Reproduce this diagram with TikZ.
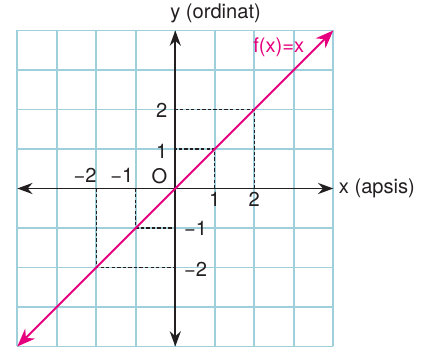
\documentclass[tikz,border=0pt]{standalone}
\usepackage{fontspec}
\setmainfont{TeX Gyre Heros}
\usepackage{xcolor}
\usetikzlibrary{arrows.meta}
\definecolor{gridblue}{RGB}{160,207,220}
\definecolor{ink}{RGB}{35,31,32}
\definecolor{fmag}{RGB}{230,0,126}

\begin{document}
\begin{tikzpicture}[
    font=\fontsize{14.5}{17}\selectfont,
    gridline/.style={gridblue, line width=1.3pt},
    axis/.style={-{Stealth[length=11pt,width=8pt]}, ink, line width=1.3pt},
    graph/.style={{Stealth[length=13pt,width=10pt]}-{Stealth[length=13pt,width=10pt]}, fmag, line width=1.4pt},
    guide/.style={ink, line width=1pt, dash pattern=on 2.4pt off 1.6pt},
    lbl/.style={text=ink, inner sep=1pt}
]
\useasboundingbox (-4.438,-4.165) rectangle (6.271,4.772);

% Grid
\draw[gridline] (-4,-4) grid (4,4);

% Axes
\coordinate (xl) at (-4,0);
\coordinate (xr) at (4,0);
\coordinate (yb) at (0,-4);
\coordinate (yt) at (0,4);
\draw[axis] (0,0) -- (xr);
\draw[axis] (0,0) -- (xl);
\draw[axis] (0,0) -- (yt);
\draw[axis] (0,0) -- (yb);

% Guide points
\coordinate (o) at (0,0);
\coordinate (p1) at (1,1);
\coordinate (p2) at (2,2);
\coordinate (m1) at (-1,-1);
\coordinate (m2) at (-2,-2);
\draw[guide] (1,0) -- (p1) -- (0,1);
\draw[guide] (2,0) -- (p2) -- (0,2);
\draw[guide] (-1,0) -- (m1) -- (0,-1);
\draw[guide] (-2,0) -- (m2) -- (0,-2);

% Graph of f
\coordinate (fa) at (-4,-4);
\coordinate (fb) at (4,4);
\draw[graph] (fa) -- (fb);

% Tick labels
\node[lbl, anchor=north] (tx1) at (1,-0.06) {1};
\node[lbl, anchor=north] (tx2) at (2,-0.06) {2};
\node[lbl, anchor=south east] (txm1) at (-1.02,0.1) {−1};
\node[lbl, anchor=south east] (txm2) at (-1.95,0.1) {−2};
\node[lbl] (origin) at (-0.4,0.32) {O};
\node[lbl, anchor=east] (ty1) at (-0.16,0.93) {1};
\node[lbl, anchor=east] (ty2) at (-0.16,1.98) {2};
\node[lbl, anchor=west] (tym1) at (0.18,-1.0) {−1};
\node[lbl, anchor=west] (tym2) at (0.18,-2.04) {−2};

% Axis names
\node[lbl, anchor=west] (xname) at (4.1,0) {x (apsis)};
\node[lbl] (yname) at (1.02,4.44) {y (ordinat)};
\node[lbl, text=fmag] (fname) at (2.62,3.58) {f(x)=x};
\end{tikzpicture}
\end{document}
